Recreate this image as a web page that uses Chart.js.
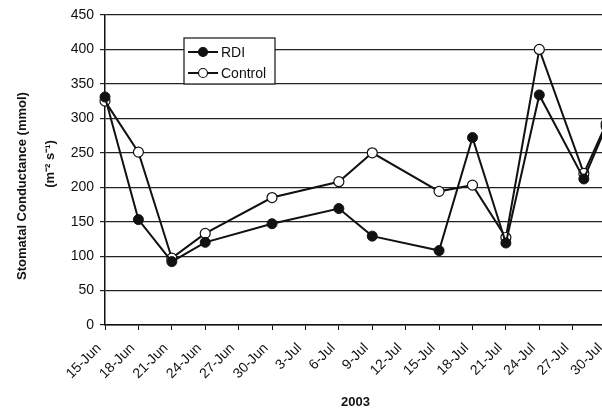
<!DOCTYPE html>
<html lang="en">
<head>
<meta charset="UTF-8" />
<title>Stomatal Conductance - 2003</title>
<script src="https://cdn.jsdelivr.net/npm/chart.js"></script>
<style>
  html, body { margin: 0; padding: 0; background: #fff; overflow: hidden; }
  /* plot runs a few px past the window edge, like the cropped original */
  .chart-wrapper { width: 628px; height: 411px; }
</style>
</head>
<body>
<div class="chart-wrapper">
  <canvas id="conductanceChart" width="628" height="411"></canvas>
</div>
<script>
  // sampling dates (2003)
  const sampleDates = [
    "2003-06-15", "2003-06-18", "2003-06-21", "2003-06-24", "2003-06-30",
    "2003-07-06", "2003-07-09", "2003-07-15", "2003-07-18", "2003-07-21",
    "2003-07-24", "2003-07-28", "2003-07-30"
  ];
  const rdiValues = [331, 153, 92, 120, 147, 169, 129, 108, 272, 119, 334, 212, 288];
  const controlValues = [325, 251, 97, 133, 185, 208, 250, 194, 203, 127, 400, 220, 292];

  const tickLabels = [
    "15-Jun", "18-Jun", "21-Jun", "24-Jun", "27-Jun", "30-Jun", "3-Jul", "6-Jul",
    "9-Jul", "12-Jul", "15-Jul", "18-Jul", "21-Jul", "24-Jul", "27-Jul", "30-Jul"
  ];
  const seriesNames = ["RDI", "Control"];
  const xTitle = "2003";
  const yTitleLines = ["Stomatal Conductance (mmol)", "(m\u207B\u00B2 s\u207B\u00B9)"];

  const FONT = '"Liberation Sans", Arial, sans-serif';
  const DAY = 86400000;
  const start = Date.parse(sampleDates[0]);
  const dayOf = (d) => Math.round((Date.parse(d) - start) / DAY);

  const toPoints = (vals) => vals.map((v, i) => ({ x: dayOf(sampleDates[i]), y: v }));

  const yTitlePlugin = {
    id: "yTitle",
    afterDraw(chart) {
      const ctx = chart.ctx;
      const spots = [[22, 186], [50, 164]];
      yTitleLines.forEach((line, i) => {
        ctx.save();
        ctx.fillStyle = "#111";
        ctx.textAlign = "center";
        ctx.textBaseline = "middle";
        ctx.font = "bold 13px " + FONT;
        ctx.translate(spots[i][0], spots[i][1]);
        ctx.rotate(-Math.PI / 2);
        ctx.fillText(line, 0, 0);
        ctx.restore();
      });
    }
  };

  // boxed legend sitting inside the plot, upper left
  const boxLegendPlugin = {
    id: "boxLegend",
    afterDraw(chart) {
      const ctx = chart.ctx;
      const x0 = 184, y0 = 38, w = 91, h = 46;
      ctx.save();
      ctx.fillStyle = "#fff";
      ctx.fillRect(x0, y0, w, h);
      ctx.strokeStyle = "#111";
      ctx.lineWidth = 1.2;
      ctx.strokeRect(x0, y0, w, h);
      chart.data.datasets.forEach((ds, i) => {
        const cy = y0 + 14 + i * 21;
        ctx.strokeStyle = "#111";
        ctx.lineWidth = 2;
        ctx.beginPath();
        ctx.moveTo(x0 + 4, cy);
        ctx.lineTo(x0 + 34, cy);
        ctx.stroke();
        ctx.beginPath();
        ctx.arc(x0 + 19, cy, 4.5, 0, Math.PI * 2);
        ctx.fillStyle = ds.pointBackgroundColor;
        ctx.fill();
        ctx.lineWidth = 1.2;
        ctx.stroke();
        ctx.fillStyle = "#111";
        ctx.font = "14px " + FONT;
        ctx.textAlign = "left";
        ctx.textBaseline = "middle";
        ctx.fillText(ds.label, x0 + 37, cy + 1);
      });
      ctx.restore();
    }
  };

  new Chart(document.getElementById("conductanceChart").getContext("2d"), {
    type: "line",
    data: {
      datasets: [
        {
          label: seriesNames[0],
          data: toPoints(rdiValues),
          borderColor: "#111",
          borderWidth: 2,
          pointRadius: 5,
          pointBackgroundColor: "#111",
          pointBorderColor: "#111",
          pointBorderWidth: 1,
          tension: 0,
          clip: false
        },
        {
          label: seriesNames[1],
          data: toPoints(controlValues),
          borderColor: "#111",
          borderWidth: 2,
          pointRadius: 5,
          pointBackgroundColor: "#fff",
          pointBorderColor: "#111",
          pointBorderWidth: 1.2,
          tension: 0,
          clip: false
        }
      ]
    },
    options: {
      responsive: false,
      animation: false,
      layout: { padding: { top: 15, right: 0, bottom: 0, left: 0 } },
      plugins: {
        legend: { display: false },
        tooltip: { enabled: false }
      },
      scales: {
        x: {
          type: "linear",
          min: 0,
          max: 45,
          afterBuildTicks(scale) {
            scale.ticks = tickLabels.map((_, i) => ({ value: i * 3 }));
          },
          afterFit(scale) { scale.height = 86; },
          ticks: {
            minRotation: 45,
            maxRotation: 45,
            padding: 10,
            labelOffset: -6,
            color: "#111",
            font: { family: FONT, size: 14 },
            callback: (v, i) => tickLabels[i]
          },
          grid: {
            drawOnChartArea: false,
            drawTicks: true,
            tickLength: 5,
            color: "#111"
          },
          border: { color: "#111", width: 1.5 },
          title: {
            display: true,
            text: xTitle,
            color: "#111",
            font: { family: FONT, size: 13, weight: "bold" },
            padding: { top: 0, bottom: 1 }
          }
        },
        y: {
          min: 0,
          max: 450,
          afterFit(scale) { scale.width = 105; },
          ticks: {
            stepSize: 50,
            padding: 6,
            color: "#111",
            font: { family: FONT, size: 14 }
          },
          grid: {
            color: "#222",
            lineWidth: 1.2,
            tickLength: 5
          },
          border: { color: "#111", width: 1.5 }
        }
      }
    },
    plugins: [yTitlePlugin, boxLegendPlugin]
  });
</script>
</body>
</html>
